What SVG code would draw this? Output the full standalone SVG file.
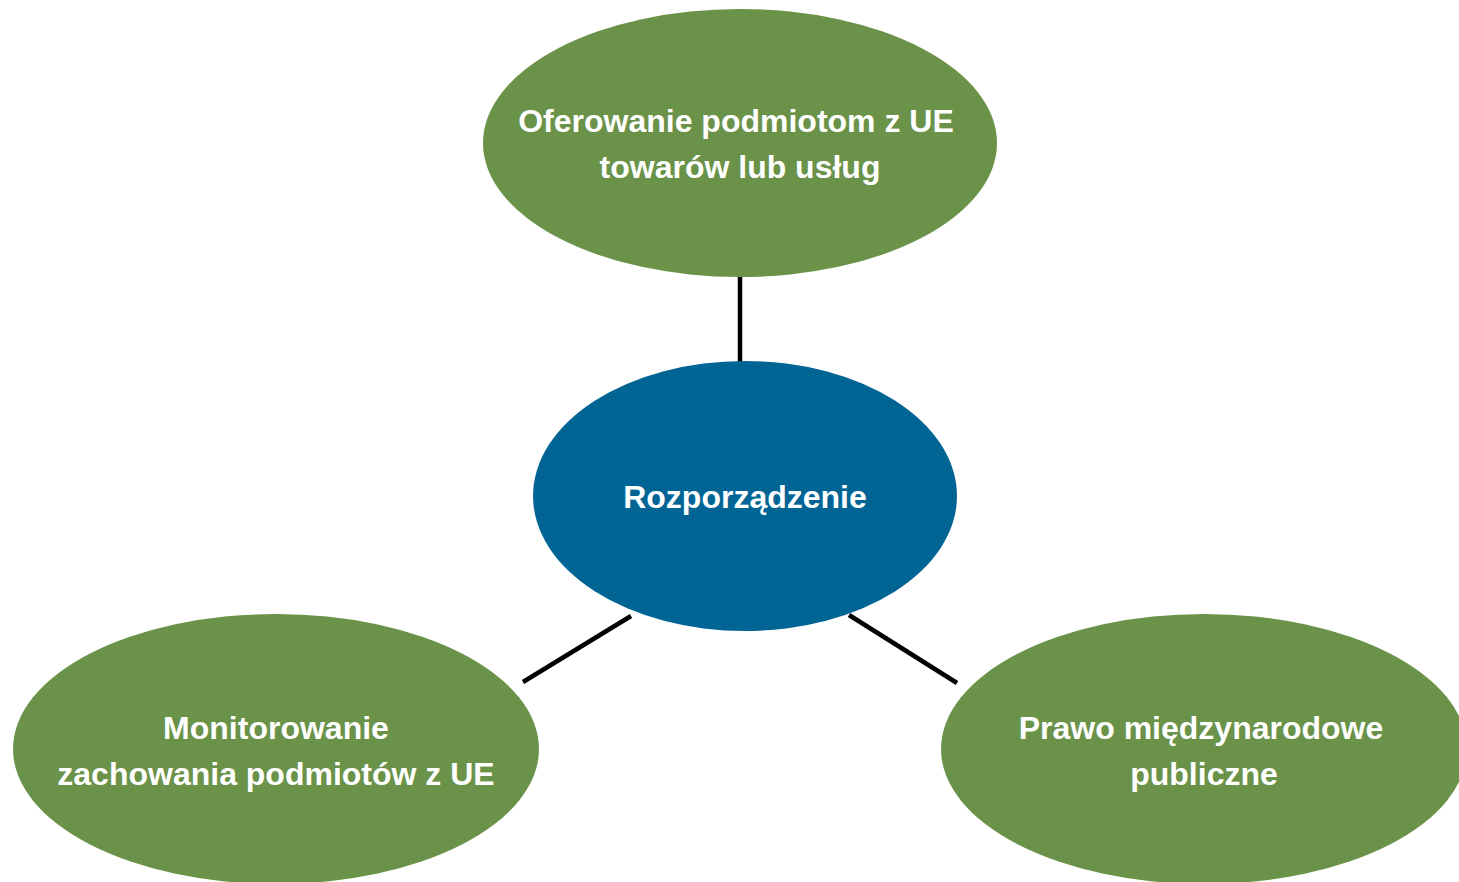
<svg xmlns="http://www.w3.org/2000/svg" width="1459" height="882" viewBox="0 0 1459 882">
<style>
.g{fill:#6a9249}
.b{fill:#006495}
.t{font-family:"Liberation Sans",Arial,sans-serif;font-weight:bold;font-size:32px;fill:#fff;text-anchor:middle}
.c{stroke:#000;stroke-width:4.5;fill:none}
</style>
<rect width="1459" height="882" fill="#fff"/>
<g id="connectors">
<line class="c" x1="740" y1="277" x2="740" y2="362"/>
<line class="c" x1="523" y1="682" x2="631" y2="616"/>
<line class="c" x1="849" y1="615" x2="957" y2="683"/>
</g>
<g id="top">
<ellipse class="g" cx="740" cy="143" rx="257" ry="134"/>
<text class="t" x="736" y="132">Oferowanie podmiotom z UE</text>
<text class="t" x="740" y="178">towarów lub usług</text>
</g>
<g id="center">
<ellipse class="b" cx="745" cy="496" rx="212" ry="135"/>
<text class="t" x="745" y="508">Rozporządzenie</text>
</g>
<g id="left">
<ellipse class="g" cx="276" cy="749" rx="263" ry="135"/>
<text class="t" x="276" y="739">Monitorowanie</text>
<text class="t" x="276" y="785">zachowania podmiotów z UE</text>
</g>
<g id="right">
<ellipse class="g" cx="1204" cy="749" rx="263" ry="135"/>
<text class="t" x="1201" y="739">Prawo międzynarodowe</text>
<text class="t" x="1204" y="785">publiczne</text>
</g>
</svg>
